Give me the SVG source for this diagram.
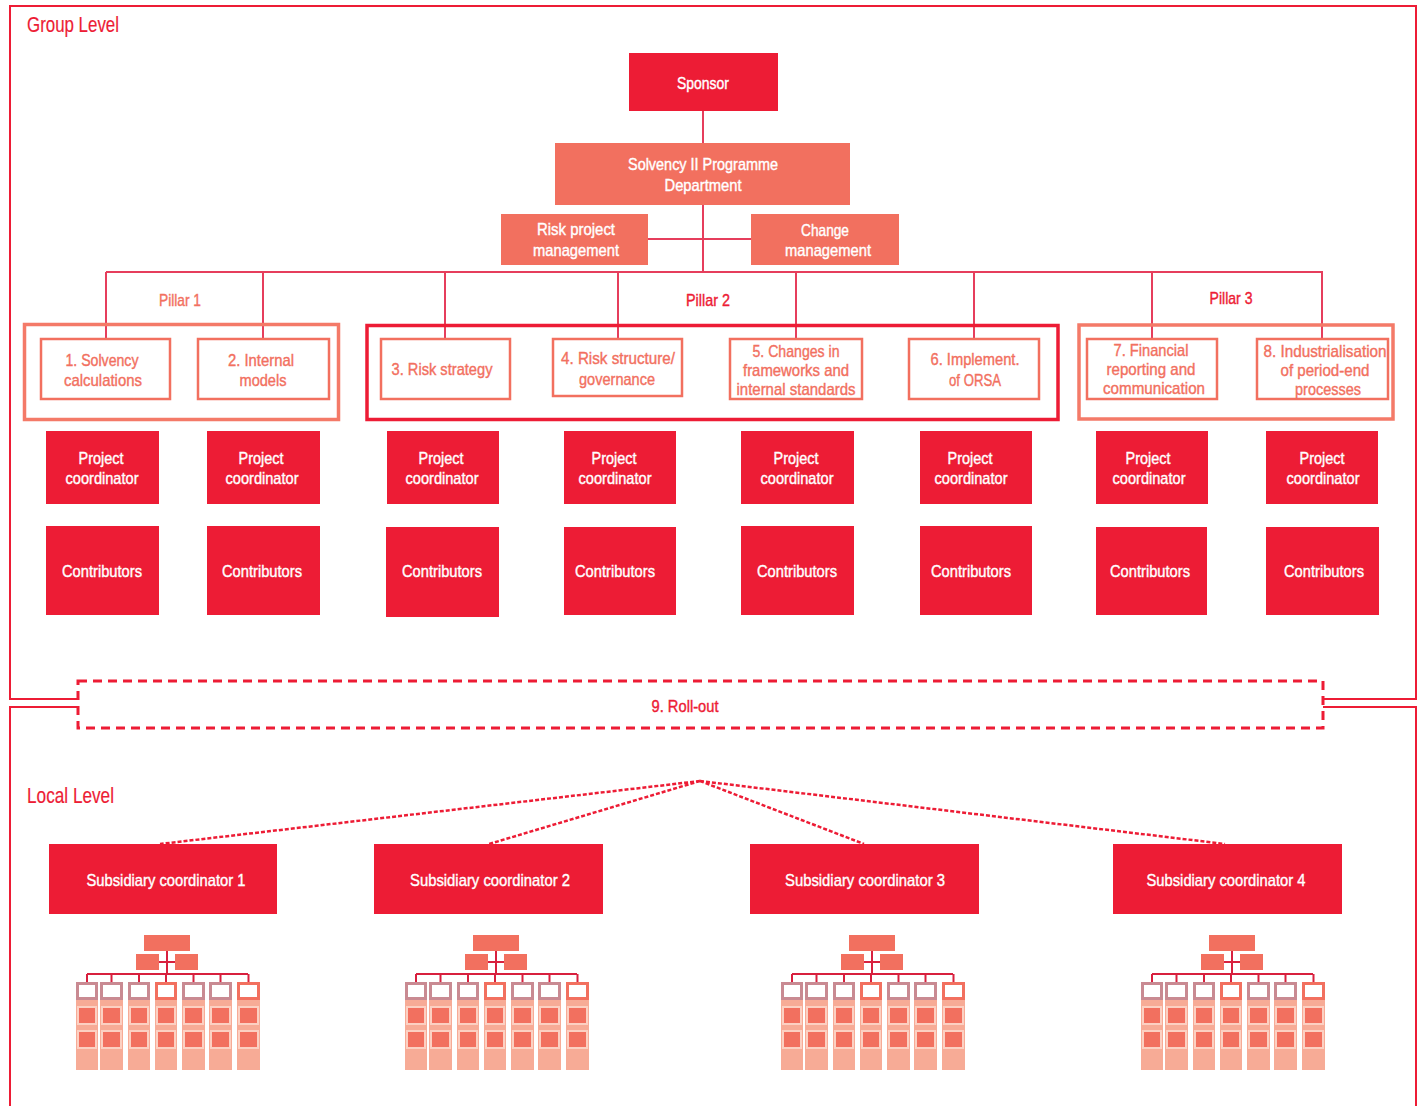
<svg xmlns="http://www.w3.org/2000/svg" xmlns:xlink="http://www.w3.org/1999/xlink" width="1423" height="1106" viewBox="0 0 1423 1106">
  <style>
    text { font-family: "Liberation Sans Narrow", "Arial Narrow", "Liberation Sans", sans-serif; text-anchor: middle; stroke-width: 0.4; }
    .lvl { font-size: 22px; fill: #ED1C35; stroke: #ED1C35; stroke-width: 0.2; text-anchor: start; }
    .w { fill: #FFFFFF; stroke: #FFFFFF; font-size: 17px; }
    .s { fill: #F2705F; stroke: #F2705F; font-size: 17px; }
    .r { fill: #ED1C35; stroke: #ED1C35; font-size: 17px; }
    .red { fill: #ED1C35; }
    .sal { fill: #F2705F; }
    .frame { fill: none; stroke: #ED1C35; stroke-width: 2; }
    .link { fill: none; stroke: #E63E5C; stroke-width: 2; }
    .item { fill: #FFFFFF; stroke: #F2705F; stroke-width: 2.5; }
    .pillar { fill: none; stroke: #F47A68; stroke-width: 3.5; }
    .pillar2 { fill: none; stroke: #ED1C35; stroke-width: 3.5; }
    .roll { fill: none; stroke: #ED1C35; stroke-width: 3; stroke-dasharray: 9 6; }
    .fan { fill: none; stroke: #ED1C35; stroke-width: 2.5; stroke-dasharray: 4 2; }
    .ml { fill: none; stroke: #D8203E; stroke-width: 2; }
    .col { fill: #F7AB96; }
    .hd { fill: #FFFFFF; stroke-width: 3; }
    .sq { fill: #F2705F; stroke: #FCD0C2; stroke-width: 2; }
  </style>
  <defs>
    <!-- small local org chart: head, two staff units, seven columns -->
    <g id="mini">
      <rect x="144" y="935" width="46" height="16" class="sal"/>
      <rect x="136" y="954" width="23" height="16" class="sal"/>
      <rect x="175" y="954" width="23" height="16" class="sal"/>
      <path class="ml" d="M167,951 V974 M159,962 H175 M87,974 H248 M87,974 V983 M111.5,974 V983 M139,974 V983 M166,974 V983 M193.5,974 V983 M220.5,974 V983 M248.5,974 V983"/>
      <g>
        <rect class="col" x="76" y="982" width="22" height="88"/>
        <rect class="col" x="100" y="982" width="23" height="88"/>
        <rect class="col" x="128" y="982" width="22" height="88"/>
        <rect class="col" x="155" y="982" width="22" height="88"/>
        <rect class="col" x="182" y="982" width="23" height="88"/>
        <rect class="col" x="209" y="982" width="23" height="88"/>
        <rect class="col" x="237" y="982" width="23" height="88"/>
      </g>
      <g>
        <rect class="hd" stroke="#C98A92" x="77.5" y="983.5" width="19" height="15"/>
        <rect class="hd" stroke="#C98A92" x="101.5" y="983.5" width="20" height="15"/>
        <rect class="hd" stroke="#C98A92" x="129.5" y="983.5" width="19" height="15"/>
        <rect class="hd" stroke="#F2705F" x="156.5" y="983.5" width="19" height="15"/>
        <rect class="hd" stroke="#C98A92" x="183.5" y="983.5" width="20" height="15"/>
        <rect class="hd" stroke="#C98A92" x="210.5" y="983.5" width="20" height="15"/>
        <rect class="hd" stroke="#F2705F" x="238.5" y="983.5" width="20" height="15"/>
      </g>
      <g>
        <rect class="sq" x="78" y="1007" width="18" height="17"/>
        <rect class="sq" x="102" y="1007" width="19" height="17"/>
        <rect class="sq" x="130" y="1007" width="18" height="17"/>
        <rect class="sq" x="157" y="1007" width="18" height="17"/>
        <rect class="sq" x="184" y="1007" width="19" height="17"/>
        <rect class="sq" x="211" y="1007" width="19" height="17"/>
        <rect class="sq" x="239" y="1007" width="19" height="17"/>
        <rect class="sq" x="78" y="1031" width="18" height="17"/>
        <rect class="sq" x="102" y="1031" width="19" height="17"/>
        <rect class="sq" x="130" y="1031" width="18" height="17"/>
        <rect class="sq" x="157" y="1031" width="18" height="17"/>
        <rect class="sq" x="184" y="1031" width="19" height="17"/>
        <rect class="sq" x="211" y="1031" width="19" height="17"/>
        <rect class="sq" x="239" y="1031" width="19" height="17"/>
      </g>
    </g>
  </defs>

  <rect width="1423" height="1106" fill="#FFFFFF"/>

  <!-- level frames -->
  <g id="frames">
    <path class="frame" d="M78,699 H10 V6 H1416 V699 H1323"/>
    <path class="frame" d="M10,1110 V707 H78 M1323,707 H1416 V1110"/>
    <text class="lvl" x="27" y="32" textLength="92" lengthAdjust="spacingAndGlyphs">Group Level</text>
    <text class="lvl" x="27" y="803" textLength="87" lengthAdjust="spacingAndGlyphs">Local Level</text>
  </g>

  <!-- connectors -->
  <g id="connectors">
    <path class="link" stroke-width="1.5" d="M703,111 V143"/>
    <path class="link" d="M703,205 V272 M648,239 H751"/>
    <path class="link" d="M106,272 H1323"/>
    <path class="link" d="M106,272 V338 M263,272 V338 M445,272 V339 M618,272 V339 M796,272 V339 M974,272 V339 M1152,272 V339 M1322,272 V339"/>
    <path class="fan" d="M700,781 L160,844 M700,781 L489,844 M700,781 L864,844 M700,781 L1225,844"/>
  </g>

  <!-- programme governance -->
  <g id="sponsor">
    <rect x="629" y="53" width="149" height="58" class="red"/>
    <text class="w" x="703" y="89" textLength="52" lengthAdjust="spacingAndGlyphs">Sponsor</text>
  </g>
  <g id="programme">
    <rect x="555" y="143" width="295" height="62" class="sal"/>
    <text class="w" x="703" y="170" textLength="150" lengthAdjust="spacingAndGlyphs">Solvency II Programme</text>
    <text class="w" x="703" y="191" textLength="77" lengthAdjust="spacingAndGlyphs">Department</text>
  </g>
  <g id="risk-pm">
    <rect x="501" y="214" width="147" height="51" class="sal"/>
    <text class="w" x="576" y="235" textLength="78" lengthAdjust="spacingAndGlyphs">Risk project</text>
    <text class="w" x="576" y="256" textLength="86" lengthAdjust="spacingAndGlyphs">management</text>
  </g>
  <g id="change-mgmt">
    <rect x="751" y="214" width="148" height="51" class="sal"/>
    <text class="w" x="825" y="236" textLength="48" lengthAdjust="spacingAndGlyphs">Change</text>
    <text class="w" x="828" y="256" textLength="86" lengthAdjust="spacingAndGlyphs">management</text>
  </g>

  <!-- pillars -->
  <g id="pillar1">
    <rect class="pillar" x="24.5" y="324.5" width="314" height="95"/>
    <text class="s" x="180" y="306" textLength="42" lengthAdjust="spacingAndGlyphs">Pillar 1</text>
  </g>
  <g id="pillar2">
    <rect class="pillar2" x="367" y="325.5" width="691" height="94"/>
    <text class="r" x="708" y="306" textLength="44" lengthAdjust="spacingAndGlyphs">Pillar 2</text>
  </g>
  <g id="pillar3">
    <rect class="pillar" x="1079" y="325" width="314" height="94"/>
    <text class="r" x="1231" y="304" textLength="43" lengthAdjust="spacingAndGlyphs">Pillar 3</text>
  </g>

  <!-- workstreams -->
  <g id="ws1">
    <rect class="item" x="41" y="339" width="129" height="60"/>
    <text class="s" x="102" y="366" textLength="73" lengthAdjust="spacingAndGlyphs">1. Solvency</text>
    <text class="s" x="103" y="386" textLength="78" lengthAdjust="spacingAndGlyphs">calculations</text>
  </g>
  <g id="ws2">
    <rect class="item" x="198" y="339" width="131" height="60"/>
    <text class="s" x="261" y="366" textLength="66" lengthAdjust="spacingAndGlyphs">2. Internal</text>
    <text class="s" x="263" y="386" textLength="47" lengthAdjust="spacingAndGlyphs">models</text>
  </g>
  <g id="ws3">
    <rect class="item" x="381" y="339" width="129" height="60"/>
    <text class="s" x="442" y="375" textLength="101" lengthAdjust="spacingAndGlyphs">3. Risk strategy</text>
  </g>
  <g id="ws4">
    <rect class="item" x="553" y="339" width="129" height="57"/>
    <text class="s" x="618" y="364" textLength="114" lengthAdjust="spacingAndGlyphs">4. Risk structure/</text>
    <text class="s" x="617" y="385" textLength="76" lengthAdjust="spacingAndGlyphs">governance</text>
  </g>
  <g id="ws5">
    <rect class="item" x="730" y="339" width="132" height="60"/>
    <text class="s" x="796" y="357" textLength="87" lengthAdjust="spacingAndGlyphs">5. Changes in</text>
    <text class="s" x="796" y="376" textLength="106" lengthAdjust="spacingAndGlyphs">frameworks and</text>
    <text class="s" x="796" y="395" textLength="119" lengthAdjust="spacingAndGlyphs">internal standards</text>
  </g>
  <g id="ws6">
    <rect class="item" x="909" y="339" width="130" height="60"/>
    <text class="s" x="975" y="365" textLength="89" lengthAdjust="spacingAndGlyphs">6. Implement.</text>
    <text class="s" x="975" y="386" textLength="52" lengthAdjust="spacingAndGlyphs">of ORSA</text>
  </g>
  <g id="ws7">
    <rect class="item" x="1087" y="339" width="130" height="60"/>
    <text class="s" x="1151" y="356" textLength="75" lengthAdjust="spacingAndGlyphs">7. Financial</text>
    <text class="s" x="1151" y="375" textLength="89" lengthAdjust="spacingAndGlyphs">reporting and</text>
    <text class="s" x="1154" y="394" textLength="102" lengthAdjust="spacingAndGlyphs">communication</text>
  </g>
  <g id="ws8">
    <rect class="item" x="1257" y="339" width="131" height="60"/>
    <text class="s" x="1325" y="357" textLength="123" lengthAdjust="spacingAndGlyphs">8. Industrialisation</text>
    <text class="s" x="1325" y="376" textLength="89" lengthAdjust="spacingAndGlyphs">of period-end</text>
    <text class="s" x="1328" y="395" textLength="66" lengthAdjust="spacingAndGlyphs">processes</text>
  </g>

  <!-- project coordinators -->
  <g id="pc1"><rect x="46" y="431" width="113" height="73" class="red"/><text class="w" x="101" y="464" textLength="45" lengthAdjust="spacingAndGlyphs">Project</text><text class="w" x="102" y="484" textLength="73" lengthAdjust="spacingAndGlyphs">coordinator</text></g>
  <g id="pc2"><rect x="207" y="431" width="113" height="73" class="red"/><text class="w" x="261" y="464" textLength="45" lengthAdjust="spacingAndGlyphs">Project</text><text class="w" x="262" y="484" textLength="73" lengthAdjust="spacingAndGlyphs">coordinator</text></g>
  <g id="pc3"><rect x="387" y="431" width="112" height="73" class="red"/><text class="w" x="441" y="464" textLength="45" lengthAdjust="spacingAndGlyphs">Project</text><text class="w" x="442" y="484" textLength="73" lengthAdjust="spacingAndGlyphs">coordinator</text></g>
  <g id="pc4"><rect x="564" y="431" width="112" height="73" class="red"/><text class="w" x="614" y="464" textLength="45" lengthAdjust="spacingAndGlyphs">Project</text><text class="w" x="615" y="484" textLength="73" lengthAdjust="spacingAndGlyphs">coordinator</text></g>
  <g id="pc5"><rect x="741" y="431" width="113" height="73" class="red"/><text class="w" x="796" y="464" textLength="45" lengthAdjust="spacingAndGlyphs">Project</text><text class="w" x="797" y="484" textLength="73" lengthAdjust="spacingAndGlyphs">coordinator</text></g>
  <g id="pc6"><rect x="920" y="431" width="112" height="73" class="red"/><text class="w" x="970" y="464" textLength="45" lengthAdjust="spacingAndGlyphs">Project</text><text class="w" x="971" y="484" textLength="73" lengthAdjust="spacingAndGlyphs">coordinator</text></g>
  <g id="pc7"><rect x="1096" y="431" width="112" height="73" class="red"/><text class="w" x="1148" y="464" textLength="45" lengthAdjust="spacingAndGlyphs">Project</text><text class="w" x="1149" y="484" textLength="73" lengthAdjust="spacingAndGlyphs">coordinator</text></g>
  <g id="pc8"><rect x="1266" y="431" width="112" height="73" class="red"/><text class="w" x="1322" y="464" textLength="45" lengthAdjust="spacingAndGlyphs">Project</text><text class="w" x="1323" y="484" textLength="73" lengthAdjust="spacingAndGlyphs">coordinator</text></g>

  <!-- contributors -->
  <g id="ct1"><rect x="46" y="526" width="113" height="89" class="red"/><text class="w" x="102" y="577" textLength="80" lengthAdjust="spacingAndGlyphs">Contributors</text></g>
  <g id="ct2"><rect x="207" y="526" width="113" height="89" class="red"/><text class="w" x="262" y="577" textLength="80" lengthAdjust="spacingAndGlyphs">Contributors</text></g>
  <g id="ct3"><rect x="386" y="527" width="113" height="90" class="red"/><text class="w" x="442" y="577" textLength="80" lengthAdjust="spacingAndGlyphs">Contributors</text></g>
  <g id="ct4"><rect x="564" y="527" width="112" height="88" class="red"/><text class="w" x="615" y="577" textLength="80" lengthAdjust="spacingAndGlyphs">Contributors</text></g>
  <g id="ct5"><rect x="741" y="526" width="113" height="89" class="red"/><text class="w" x="797" y="577" textLength="80" lengthAdjust="spacingAndGlyphs">Contributors</text></g>
  <g id="ct6"><rect x="920" y="526" width="112" height="89" class="red"/><text class="w" x="971" y="577" textLength="80" lengthAdjust="spacingAndGlyphs">Contributors</text></g>
  <g id="ct7"><rect x="1096" y="527" width="111" height="88" class="red"/><text class="w" x="1150" y="577" textLength="80" lengthAdjust="spacingAndGlyphs">Contributors</text></g>
  <g id="ct8"><rect x="1266" y="527" width="113" height="88" class="red"/><text class="w" x="1324" y="577" textLength="80" lengthAdjust="spacingAndGlyphs">Contributors</text></g>

  <!-- roll-out to local level -->
  <g id="rollout">
    <rect class="roll" x="78" y="681" width="1245" height="47"/>
    <text class="r" x="685" y="712" textLength="67" lengthAdjust="spacingAndGlyphs">9. Roll-out</text>
  </g>

  <!-- subsidiaries -->
  <g id="sub1"><rect x="49" y="844" width="228" height="70" class="red"/><text class="w" x="166" y="886" textLength="159" lengthAdjust="spacingAndGlyphs">Subsidiary coordinator 1</text></g>
  <g id="sub2"><rect x="374" y="844" width="229" height="70" class="red"/><text class="w" x="490" y="886" textLength="160" lengthAdjust="spacingAndGlyphs">Subsidiary coordinator 2</text></g>
  <g id="sub3"><rect x="750" y="844" width="229" height="70" class="red"/><text class="w" x="865" y="886" textLength="160" lengthAdjust="spacingAndGlyphs">Subsidiary coordinator 3</text></g>
  <g id="sub4"><rect x="1113" y="844" width="229" height="70" class="red"/><text class="w" x="1226" y="886" textLength="159" lengthAdjust="spacingAndGlyphs">Subsidiary coordinator 4</text></g>

  <!-- local organisations -->
  <g id="local1"><use xlink:href="#mini"/></g>
  <g id="local2"><use xlink:href="#mini" transform="translate(329,0)"/></g>
  <g id="local3"><use xlink:href="#mini" transform="translate(705,0)"/></g>
  <g id="local4"><use xlink:href="#mini" transform="translate(1065,0)"/></g>
</svg>
